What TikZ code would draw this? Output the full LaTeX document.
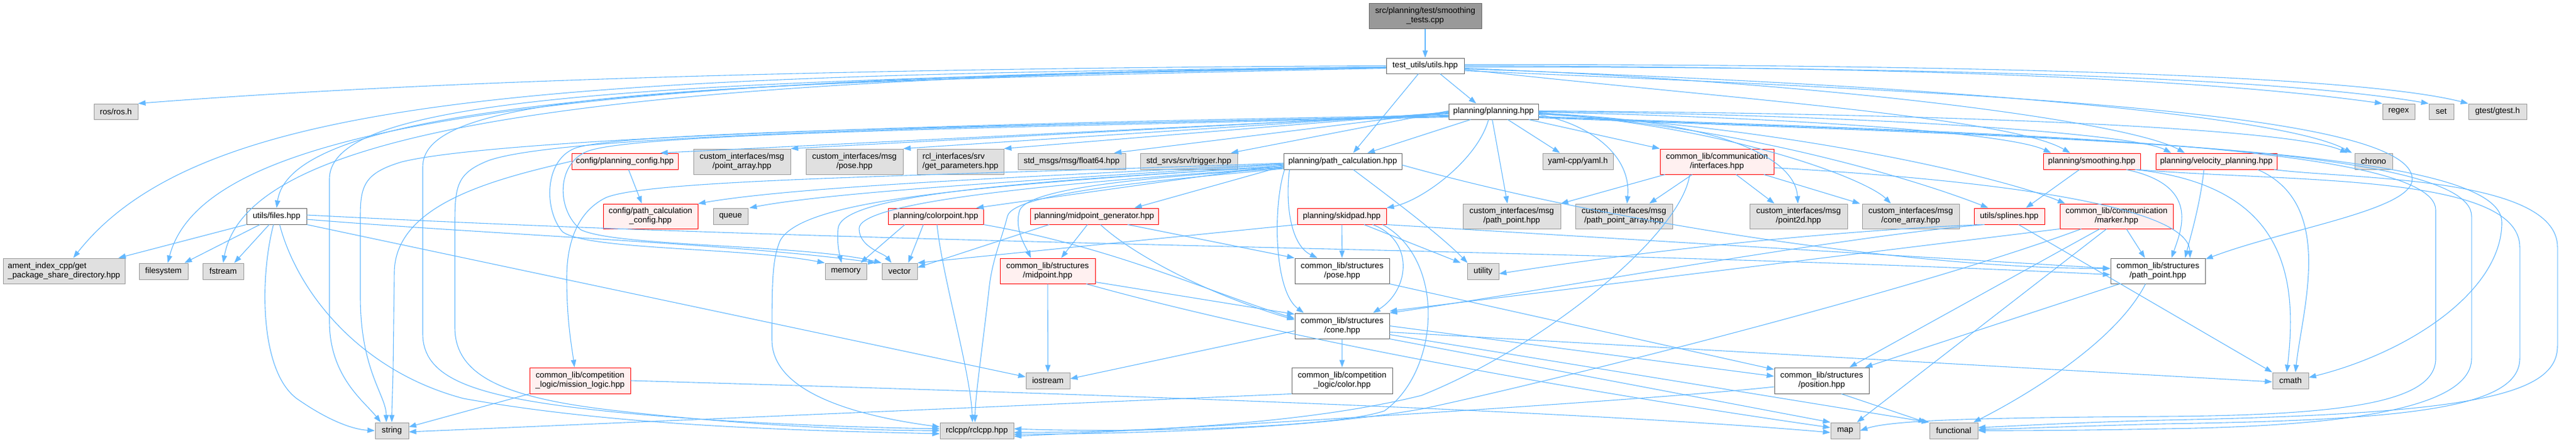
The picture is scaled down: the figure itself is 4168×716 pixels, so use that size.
\documentclass[tikz,border=0pt]{standalone}
\usepackage{fontspec}
\newfontfamily\lsans{Liberation Sans}
\usetikzlibrary{arrows.meta}
\definecolor{edgec}{HTML}{63B8FF}
\definecolor{extfill}{HTML}{E0E0E0}
\definecolor{extborder}{HTML}{999999}
\definecolor{docborder}{HTML}{666666}
\definecolor{truncfill}{HTML}{FFF0F0}
\definecolor{truncborder}{HTML}{FF0000}
\definecolor{rootfill}{HTML}{999999}
\begin{document}
\begin{tikzpicture}[x=1pt,y=-1pt,
  box/.style={rectangle, inner sep=1pt, line width=1pt, align=center,
    font=\lsans\fontsize{13.3}{15}\selectfont},
  ext/.style={box, draw=extborder, fill=extfill},
  doc/.style={box, draw=docborder, fill=white},
  trunc/.style={box, draw=truncborder, fill=truncfill},
  rootn/.style={box, draw=docborder, fill=rootfill},
  e/.style={draw=edgec, line width=1.1pt, -{Triangle[length=12pt,width=8.5pt]}}]
\useasboundingbox (0,0) rectangle (4168,716);
% ---------- nodes ----------
\node[rootn,minimum width=182pt,minimum height=41pt] (root) at (2306,25.5) {src/planning/test/smoothing\\\_tests.cpp};
\node[doc,minimum width=126pt,minimum height=25pt] (utils) at (2306,106.5) {test\_utils/utils.hpp};
\node[doc,minimum width=145pt,minimum height=25pt] (planning) at (2416.5,180.5) {planning/planning.hpp};
\node[ext,minimum width=71pt,minimum height=25pt] (ros) at (187.5,180.5) {ros/ros.h};
\node[ext,minimum width=52pt,minimum height=25pt] (regex) at (3881,180.5) {regex};
\node[ext,minimum width=40pt,minimum height=25pt] (nset) at (3950,180.5) {set};
\node[ext,minimum width=94pt,minimum height=25pt] (gtest) at (4041,180.5) {gtest/gtest.h};
\node[trunc,minimum width=172pt,minimum height=26pt] (plconf) at (1011,261) {config/planning\_config.hpp};
\node[ext,minimum width=157pt,minimum height=41pt] (ptarr) at (1200.5,261.5) {custom\_interfaces/msg\\/point\_array.hpp};
\node[ext,minimum width=157pt,minimum height=41pt] (cpose) at (1382.5,261.5) {custom\_interfaces/msg\\/pose.hpp};
\node[ext,minimum width=140pt,minimum height=41pt,align=left] (rcl) at (1554,261.5) {rcl\_interfaces/srv\\/get\_parameters.hpp};
\node[ext,minimum width=174pt,minimum height=26pt] (float64) at (1734,261) {std\_msgs/msg/float64.hpp};
\node[ext,minimum width=157pt,minimum height=26pt] (trigger) at (1923.5,261) {std\_srvs/srv/trigger.hpp};
\node[doc,minimum width=191pt,minimum height=26pt] (pathcalc) at (2172.5,261) {planning/path\_calculation.hpp};
\node[ext,minimum width=114pt,minimum height=26pt] (yaml) at (2553,261) {yaml-cpp/yaml.h};
\node[trunc,minimum width=184pt,minimum height=41pt] (ifaces) at (2778,261.5) {common\_lib/communication\\/interfaces.hpp};
\node[trunc,minimum width=157pt,minimum height=26pt] (smooth) at (3384.5,261) {planning/smoothing.hpp};
\node[trunc,minimum width=196pt,minimum height=26pt] (velo) at (3586,261) {planning/velocity\_planning.hpp};
\node[ext,minimum width=61pt,minimum height=26pt] (chrono) at (3840.5,261) {chrono};
\node[doc,minimum width=97pt,minimum height=26pt] (files) at (447.5,350) {utils/files.hpp};
\node[trunc,minimum width=153pt,minimum height=40pt] (pcconf) at (1052.5,350) {config/path\_calculation\\\_config.hpp};
\node[ext,minimum width=56pt,minimum height=26pt] (queue) at (1182,350) {queue};
\node[trunc,minimum width=154pt,minimum height=26pt] (colorpt) at (1514,350) {planning/colorpoint.hpp};
\node[trunc,minimum width=207pt,minimum height=26pt] (midgen) at (1770.5,350) {planning/midpoint\_generator.hpp};
\node[trunc,minimum width=144pt,minimum height=26pt] (skidpad) at (2171,350) {planning/skidpad.hpp};
\node[ext,minimum width=158pt,minimum height=40pt] (cpathpt) at (2446,350) {custom\_interfaces/msg\\/path\_point.hpp};
\node[ext,minimum width=157pt,minimum height=40pt] (cpatharr) at (2627.5,350) {custom\_interfaces/msg\\/path\_point\_array.hpp};
\node[ext,minimum width=158pt,minimum height=40pt] (point2d) at (2910,350) {custom\_interfaces/msg\\/point2d.hpp};
\node[ext,minimum width=157pt,minimum height=40pt] (conearr) at (3091.5,350) {custom\_interfaces/msg\\/cone\_array.hpp};
\node[trunc,minimum width=114pt,minimum height=26pt] (splines) at (3251,350) {utils/splines.hpp};
\node[trunc,minimum width=183pt,minimum height=40pt] (marker) at (3424.5,350) {common\_lib/communication\\/marker.hpp};
\node[ext,minimum width=197pt,minimum height=41pt,align=left] (ament) at (103.5,438.5) {ament\_index\_cpp/get\\\_package\_share\_directory.hpp};
\node[ext,minimum width=79pt,minimum height=26pt] (filesys) at (264.5,439) {filesystem};
\node[ext,minimum width=66pt,minimum height=26pt] (fstream) at (361,439) {fstream};
\node[ext,minimum width=67pt,minimum height=26pt] (memory) at (1368.5,439) {memory};
\node[ext,minimum width=57pt,minimum height=26pt] (vector) at (1455.5,439) {vector};
\node[trunc,minimum width=154pt,minimum height=41pt] (midpt) at (1695,438.5) {common\_lib/structures\\/midpoint.hpp};
\node[doc,minimum width=153pt,minimum height=41pt] (spose) at (2171.5,438.5) {common\_lib/structures\\/pose.hpp};
\node[ext,minimum width=51pt,minimum height=26pt] (utility) at (2399.5,439) {utility};
\node[doc,minimum width=153pt,minimum height=41pt] (spathpt) at (3491.5,438.5) {common\_lib/structures\\/path\_point.hpp};
\node[doc,minimum width=153pt,minimum height=41pt] (scone) at (2171.5,527.5) {common\_lib/structures\\/cone.hpp};
\node[trunc,minimum width=163pt,minimum height=42pt] (mission) at (938.5,616) {common\_lib/competition\\\_logic/mission\_logic.hpp};
\node[ext,minimum width=71pt,minimum height=26pt] (iostream) at (1695.5,616) {iostream};
\node[doc,minimum width=163pt,minimum height=42pt] (colorh) at (2171.5,616) {common\_lib/competition\\\_logic/color.hpp};
\node[doc,minimum width=153pt,minimum height=42pt] (position) at (2947.5,616) {common\_lib/structures\\/position.hpp};
\node[ext,minimum width=58pt,minimum height=26pt] (cmath) at (3706,616) {cmath};
\node[ext,minimum width=54pt,minimum height=26pt] (strh) at (634,697) {string};
\node[ext,minimum width=119pt,minimum height=26pt] (rclcpp) at (1580.5,697) {rclcpp/rclcpp.hpp};
\node[ext,minimum width=47pt,minimum height=26pt] (maph) at (2985.5,697) {map};
\node[ext,minimum width=78pt,minimum height=26pt] (funch) at (3161,697) {functional};
% ---------- edges ----------
\draw[e] (root) -- (utils);
% utils
\draw[e] (utils.west) .. controls (1400,110) and (700,130) .. (ros.north east);
\draw[e] ([yshift=-2pt]utils.west) .. controls (900,122) and (330,150) .. ([xshift=15pt]ament.north);
\draw[e] ([yshift=-2pt]utils.west) .. controls (900,124) and (330,200) .. ([xshift=7pt]filesys.north);
\draw[e] ([yshift=-2pt]utils.west) .. controls (950,126) and (400,210) .. (fstream.north);
\draw[e] ([yshift=-3pt]utils.west) .. controls (1000,128) and (470,180) .. (files.north);
\draw[e] ([yshift=-3pt]utils.west) .. controls (1000,130) and (533,160) .. (533,290) -- (533,520) .. controls (533,610) and (590,650) .. ([xshift=-18pt]strh.north);
\draw[e] ([yshift=-4pt]utils.west) .. controls (1100,135) and (684,150) .. (684,270) -- (684,540) .. controls (684,610) and (760,640) .. (950,662) .. controls (1150,685) and (1400,692) .. ([yshift=3pt]rclcpp.west);
\draw[e] ([xshift=24pt]utils.south) -- ([xshift=-28pt]planning.north);
\draw[e] ([xshift=-11pt]utils.south) -- ([xshift=17pt]pathcalc.north);
\draw[e] (utils.east) .. controls (2900,108) and (3500,118) .. (regex.north west);
\draw[e] ([yshift=-2pt]utils.east) .. controls (3000,108) and (3650,120) .. (nset.north west);
\draw[e] ([yshift=2pt]utils.east) .. controls (3100,104) and (3800,118) .. (gtest.north west);
\draw[e] ([yshift=-6pt]utils.east) .. controls (2800,160) and (3250,190) .. ([xshift=-35pt]smooth.north);
\draw[e] ([yshift=-4pt]utils.east) .. controls (3000,135) and (3450,200) .. ([xshift=-51pt]velo.north);
\draw[e] ([yshift=-5pt]utils.east) .. controls (3200,140) and (3700,190) .. ([xshift=-35pt]chrono.north);
\draw[e] ([yshift=-8pt]utils.east) .. controls (3200,150) and (3903,180) .. (3903,290) .. controls (3903,340) and (3700,370) .. ([yshift=-2pt]spathpt.north east);
% planning
\draw[e] ([yshift=-4pt]planning.west) -- ([xshift=-29pt]plconf.north east);
\draw[e] ([yshift=-3pt]planning.west) -- (ptarr.north east);
\draw[e] ([yshift=-2pt]planning.west) -- (cpose.north east);
\draw[e] ([yshift=-1pt]planning.west) -- (rcl.north east);
\draw[e] (planning.west) -- ([xshift=-19pt]float64.north east);
\draw[e] ([yshift=1pt]planning.west) -- ([xshift=-11pt]trigger.north east);
\draw[e] ([xshift=-37pt]planning.south) -- ([xshift=40pt]pathcalc.north);
\draw[e] ([xshift=23pt]planning.south) -- ([xshift=-29pt]yaml.north);
\draw[e] ([xshift=-16pt]planning.south east) -- (ifaces.north west);
\draw[e] ([xshift=-2pt]planning.south) -- ([xshift=-7pt]cpathpt.north);
\draw[e] ([yshift=-5pt]planning.east) .. controls (2570,200) and (2640,250) .. ([xshift=5pt]cpatharr.north);
\draw[e] ([yshift=-3pt]planning.east) .. controls (2800,195) and (2905,260) .. ([xshift=-1pt]point2d.north);
\draw[e] ([yshift=-2pt]planning.east) .. controls (2800,205) and (3020,290) .. ([xshift=-32pt]conearr.north);
\draw[e] ([yshift=-1pt]planning.east) .. controls (2900,190) and (3250,215) .. ([xshift=-66pt]smooth.north);
\draw[e] (planning.east) .. controls (3000,185) and (3450,215) .. ([xshift=-73pt]velo.north);
\draw[e] ([yshift=1pt]planning.east) .. controls (3100,183) and (3700,205) .. ([xshift=-42pt]chrono.north);
\draw[e] ([xshift=-8pt]planning.south) .. controls (2390,260) and (2300,325) .. (skidpad.north east);
\draw[e] ([yshift=-4pt]planning.east) .. controls (2800,200) and (3100,290) .. ([xshift=-34pt]splines.north);
\draw[e] ([yshift=-4pt]planning.east) .. controls (2900,205) and (3250,290) .. ([xshift=9pt]marker.north west);
\draw[e] ([yshift=-6pt]planning.west) .. controls (1500,200) and (800,225) .. (650,262) .. controls (590,280) and (583,300) .. (583,350) -- (583,480) .. controls (583,600) and (625,640) .. ([xshift=-9pt]strh.north);
\draw[e] ([yshift=-7pt]planning.west) .. controls (1500,205) and (900,220) .. (790,260) .. controls (740,280) and (736,300) .. (736,360) -- (736,530) .. controls (736,610) and (820,645) .. (1000,665) .. controls (1200,688) and (1400,697) .. (rclcpp.west);
\draw[e] ([yshift=-8pt]planning.west) .. controls (1500,205) and (1000,215) .. (930,240) .. controls (880,260) and (880,340) .. (910,375) .. controls (950,405) and (1200,400) .. (memory.north west);
\draw[e] ([yshift=-9pt]planning.west) .. controls (1500,208) and (1020,218) .. (950,245) .. controls (900,265) and (900,340) .. (940,372) .. controls (1000,400) and (1300,395) .. (vector.north west);
\draw[e] ([yshift=-8pt]planning.east) .. controls (3200,215) and (3941,230) .. (3941,340) -- (3941,580) .. controls (3941,650) and (3800,672) .. (3500,674) .. controls (3200,676) and (3060,680) .. (maph.east);
\draw[e] ([yshift=-9pt]planning.east) .. controls (3300,220) and (3999,235) .. (3999,350) -- (3999,580) .. controls (3999,660) and (3800,690) .. (3500,694) .. controls (3350,697) and (3250,697) .. (funch.east);
\draw[e] ([yshift=-10pt]planning.east) .. controls (3400,225) and (4048,240) .. (4048,360) .. controls (4048,470) and (3900,570) .. ([yshift=5pt]cmath.east);
% path_calculation
\draw[e] ([yshift=-4pt]pathcalc.west) .. controls (1700,285) and (1300,300) .. (pcconf.north east);
\draw[e] ([yshift=-5pt]pathcalc.west) .. controls (1700,290) and (1350,310) .. ([xshift=2pt]queue.north east);
\draw[e] ([yshift=-6pt]pathcalc.west) -- ([xshift=-12pt]colorpt.north east);
\draw[e] ([yshift=-8pt]pathcalc.west) -- ([xshift=-39pt]midgen.north east);
\draw[e] ([yshift=-3pt]pathcalc.west) .. controls (1500,285) and (1050,290) .. (980,320) .. controls (930,345) and (917,400) .. (917,450) .. controls (917,520) and (925,560) .. ([xshift=-9pt]mission.north);
\draw[e] ([yshift=-9pt]pathcalc.west) .. controls (1600,295) and (1360,320) .. (1356,370) .. controls (1354,395) and (1358,410) .. ([xshift=-7pt]memory.north);
\draw[e] ([yshift=-10pt]pathcalc.west) .. controls (1650,300) and (1390,330) .. (1390,370) .. controls (1390,400) and (1430,410) .. ([xshift=-13pt]vector.north);
\draw[e] ([yshift=-7pt]pathcalc.west) .. controls (1600,300) and (1298,320) .. (1262,390) .. controls (1250,420) and (1249,450) .. (1249,550) .. controls (1249,640) and (1400,675) .. ([yshift=6pt]rclcpp.west);
\draw[e] ([yshift=-11pt]pathcalc.west) .. controls (1900,285) and (1668,300) .. (1650,340) .. controls (1640,370) and (1660,400) .. ([xshift=-27pt]midpt.north);
\draw[e] ([yshift=-12pt]pathcalc.west) .. controls (1900,290) and (1640,310) .. (1630,350) .. controls (1620,390) and (1605,420) .. (1600,470) .. controls (1590,560) and (1578,640) .. ([xshift=-3pt]rclcpp.north);
\draw[e] ([xshift=10pt]pathcalc.south west) .. controls (2080,320) and (2085,395) .. ([xshift=-40pt]spose.north);
\draw[e] ([xshift=2pt]pathcalc.south west) .. controls (2060,330) and (2060,470) .. ([xshift=-62pt]scone.north);
\draw[e] ([xshift=17pt]pathcalc.south) .. controls (2250,320) and (2330,380) .. ([xshift=-25pt]utility.north);
\draw[e] ([yshift=-6pt]pathcalc.east) .. controls (2600,360) and (3100,435) .. ([yshift=4pt]spathpt.west);
% interfaces
\draw[e] ([xshift=-84pt]ifaces.south) -- (cpathpt.north east);
\draw[e] ([xshift=-40pt]ifaces.south) -- ([xshift=41pt]cpatharr.north);
\draw[e] ([xshift=31pt]ifaces.south) -- ([xshift=-39pt]point2d.north);
\draw[e] ([xshift=76pt]ifaces.south) -- ([xshift=-3pt]conearr.north west);
\draw[e] ([xshift=-44pt]ifaces.south) .. controls (2720,380) and (2500,560) .. (2300,640) .. controls (2100,690) and (1800,700) .. ([yshift=-3pt]rclcpp.east);
\draw[e] ([yshift=-10pt]ifaces.east) .. controls (3200,290) and (3540,330) .. ([xshift=52pt]spathpt.north);
% skidpad
\draw[e] (skidpad) -- (spose);
\draw[e] ([xshift=50pt]skidpad.south) .. controls (2290,390) and (2280,470) .. ([xshift=50pt]scone.north);
\draw[e] ([xshift=36pt]skidpad.south) -- ([xshift=-36pt]utility.north);
\draw[e] (skidpad.south west) -- (vector.north east);
\draw[e] ([xshift=66pt]skidpad.south) .. controls (2340,420) and (2330,600) .. (2240,665) .. controls (2150,695) and (1800,700) .. ([yshift=3pt]rclcpp.east);
\draw[e] (skidpad.south east) -- ([yshift=4pt]spathpt.west);
% files
\draw[e] (files.south west) -- ([xshift=88pt]ament.north);
\draw[e] ([xshift=-27pt]files.south) -- ([xshift=34pt]filesys.north);
\draw[e] ([xshift=-12pt]files.south) -- ([xshift=18pt]fstream.north);
\draw[e] ([xshift=-5pt]files.south) .. controls (420,450) and (420,600) .. (480,645) .. controls (530,680) and (570,695) .. (strh.west);
\draw[e] ([xshift=5pt]files.south) .. controls (480,470) and (580,600) .. (750,645) .. controls (1000,690) and (1300,697) .. ([yshift=-5pt]rclcpp.west);
\draw[e] (files.south east) -- ([yshift=6pt]iostream.west);
\draw[e] ([yshift=-5pt]files.east) .. controls (800,380) and (1200,395) .. ([xshift=-10pt]vector.north west);
\draw[e] ([yshift=2pt]files.east) .. controls (1500,400) and (2500,400) .. ([yshift=-6pt]spathpt.west);
% colorpoint
\draw[e] ([xshift=-20pt]colorpt.south) -- ([xshift=14pt]vector.north);
\draw[e] ([xshift=2pt]colorpt.south) .. controls (1525,450) and (1570,600) .. ([xshift=-7pt]rclcpp.north);
\draw[e] ([xshift=-50pt]colorpt.south) -- ([xshift=24pt]memory.north);
\draw[e] (colorpt.south east) .. controls (1800,400) and (1950,470) .. ([yshift=12pt]scone.west);
% midpoint generator
\draw[e] ([xshift=-11pt]midgen.south) -- ([xshift=22pt]midpt.north);
\draw[e] ([xshift=-73pt]midgen.south) -- ([yshift=6pt]vector.east);
\draw[e] ([xshift=54pt]midgen.south) -- (spose.north west);
\draw[e] ([xshift=10pt]midgen.south) .. controls (1830,410) and (1950,475) .. ([yshift=10pt]scone.west);
% midpoint
\draw[e] (midpt) -- (iostream);
\draw[e] ([yshift=3pt]midpt.south east) -- ([yshift=19pt]scone.west);
\draw[e] ([xshift=-15pt]midpt.south east) .. controls (2100,555) and (2600,640) .. ([yshift=5pt]maph.west);
% pose / cone
\draw[e] (spose.south east) -- ([yshift=18pt]position.west);
\draw[e] (scone) -- (colorh);
\draw[e] ([yshift=-8pt]scone.west) -- ([yshift=3pt]iostream.east);
\draw[e] (scone.east) -- ([yshift=7pt]position.west);
\draw[e] ([yshift=-10pt]scone.east) -- ([yshift=-2pt]cmath.west);
\draw[e] ([yshift=-14pt]scone.east) -- (funch.north west);
\draw[e] (scone.south east) -- (maph.north west);
% color / mission
\draw[e] (colorh.south west) -- ([yshift=-2pt]strh.east);
\draw[e] (mission.south west) -- ([yshift=6pt]strh.east);
\draw[e] (mission.east) .. controls (1500,630) and (2500,660) .. ([yshift=-3pt]maph.west);
% config
\draw[e] ([xshift=6pt]plconf.south) -- ([xshift=-14pt]pcconf.north);
\draw[e] (plconf.west) .. controls (800,290) and (640,330) .. (638,440) -- (636,600) .. controls (635,640) and (634,660) .. (strh.north);
% smoothing / splines
\draw[e] ([xshift=-20pt]smooth.south) -- ([xshift=27pt]splines.north);
\draw[e] ([xshift=-40pt]splines.south) .. controls (3000,380) and (2500,470) .. (scone.north east);
\draw[e] ([xshift=15pt]splines.south) -- (cmath.north west);
\draw[e] ([xshift=-45pt]splines.south) .. controls (3000,372) and (2700,400) .. ([yshift=-4pt]utility.east);
% marker
\draw[e] ([xshift=16pt]marker.south) -- ([xshift=-21pt]spathpt.north);
\draw[e] ([xshift=-27pt]marker.south) -- ([xshift=45pt]position.north);
\draw[e] ([xshift=-16pt]marker.south) -- ([xshift=19pt]maph.north);
\draw[e] (marker.south west) -- ([yshift=3pt]scone.north east);
\draw[e] ([xshift=-57pt]marker.south) .. controls (3100,470) and (2500,620) .. (2300,662) .. controls (2100,697) and (1800,702) .. ([yshift=-6pt]rclcpp.east);
% path_point / position
\draw[e] ([xshift=-62pt]spathpt.south) -- ([xshift=70pt]position.north);
\draw[e] ([xshift=-20pt]spathpt.south) .. controls (3420,560) and (3260,650) .. ([xshift=32pt]funch.north);
\draw[e] ([xshift=32pt]position.south) -- ([xshift=-45pt]funch.north);
\draw[e] ([yshift=-10pt]position.west) .. controls (2700,645) and (2000,690) .. ([yshift=-9pt]rclcpp.east);
% smoothing / velocity loops
\draw[e] ([xshift=56pt]smooth.south) .. controls (3560,300) and (3530,370) .. ([xshift=22pt]spathpt.north);
\draw[e] ([xshift=-20pt]velo.south) .. controls (3560,330) and (3545,380) .. ([xshift=44pt]spathpt.north);
\draw[e] ([xshift=67pt]velo.south) .. controls (3780,330) and (3725,500) .. ([xshift=8pt]cmath.north);
\draw[e] ([xshift=70pt]smooth.south) .. controls (3700,300) and (3718,450) .. ([xshift=-6pt]cmath.north);
\draw[e] ([xshift=-5pt]smooth.south east) .. controls (3700,295) and (4077,280) .. (4077,400) -- (4077,580) .. controls (4077,660) and (3900,680) .. (3500,686) .. controls (3350,690) and (3260,694) .. ([yshift=2pt]funch.east);
\draw[e] ([xshift=-5pt]velo.south east) .. controls (3800,290) and (4138,285) .. (4138,400) -- (4138,560) .. controls (4138,640) and (4000,670) .. (3500,680) .. controls (3350,684) and (3250,690) .. ([yshift=5pt]funch.east);
\end{tikzpicture}
\end{document}
